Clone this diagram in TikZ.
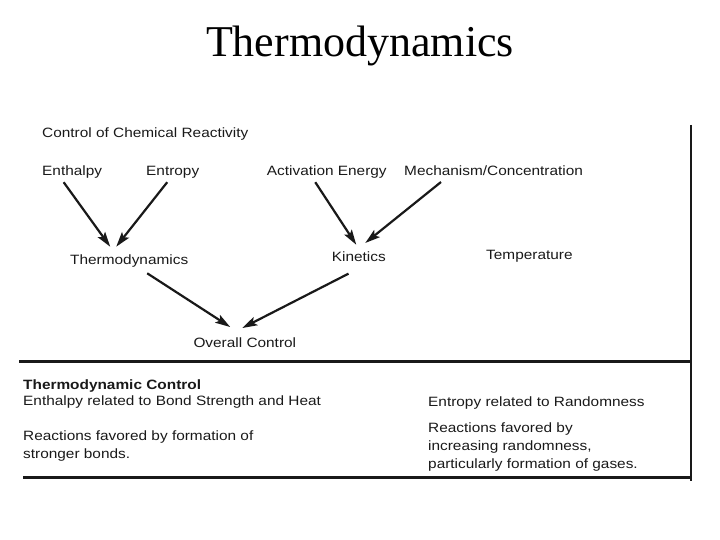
\documentclass[tikz,border=0pt]{standalone}
\usepackage{fontspec}
\setmainfont{Liberation Serif}
\newfontfamily\labelfont[FakeStretch=1.14]{Liberation Sans}
\usetikzlibrary{arrows.meta, calc}

\begin{document}
\begin{tikzpicture}[x=1pt, y=-1pt,
    lbl/.style={anchor=base west, inner sep=0pt, align=left,
      font=\labelfont\fontsize{13.5}{17.5}\selectfont, text=black!90},
    arr/.style={line width=2.2pt, draw=black!90,
      -{Stealth[length=15pt, width=9pt, inset=3pt]}},
    rule/.style={line width=3pt, draw=black!90}]
    \useasboundingbox (0,0) rectangle (720,540);
    \node[anchor=base, inner sep=0pt, font=\fontsize{44}{50}\selectfont] (title) at (360,57) {Thermodynamics};

    \node[lbl] (ctrl) at (42,138) {Control of Chemical Reactivity};
    \node[lbl] (enth) at (42,175.7) {Enthalpy};
    \node[lbl] (entr) at (146,175.7) {Entropy};
    \node[lbl] (act) at (266.7,175.7) {Activation Energy};
    \node[lbl] (mech) at (404,175.7) {Mechanism/Concentration};
    \node[lbl] (thermo) at (70,264.3) {Thermodynamics};
    \node[lbl] (kin) at (331.7,261) {Kinetics};
    \node[lbl] (temp) at (486,259.3) {Temperature};
    \node[lbl] (overall) at (193.3,347.3) {Overall Control};

    \draw[arr] ($(enth.south)+(-8.5,3.5)$) -- ($(thermo.north)+(-19,-7.6)$);
    \draw[arr] ($(entr.south)+(-5.5,3.5)$) -- ($(thermo.north)+(-13,-7.6)$);
    \draw[arr] ($(act.south)+(-11.5,3.5)$) -- ($(kin.north)+(-2.6,-6.3)$);
    \draw[arr] ($(mech.south west)+(37,6)$) -- ($(kin.north)+(6.4,-8)$);
    \draw[arr] ($(thermo.south)+(18,6)$) -- ($(overall.north)+(-14.6,-10.3)$);
    \draw[arr] ($(kin.south)+(-10.3,12.3)$) -- ($(overall.north)+(-2.6,-9.3)$);

    \coordinate (ruleA) at (19,361.7);
    \coordinate (ruleB) at (691,361.7);
    \coordinate (ruleC) at (23,477.7);
    \coordinate (ruleD) at (691,477.7);
    \coordinate (sideT) at (691,125);
    \coordinate (sideB) at (691,481);
    \draw[rule] (ruleA) -- (ruleB);
    \draw[rule] (ruleC) -- (ruleD);
    \draw[line width=1.2pt, draw=black!90] (sideT) -- (sideB);

    \node[lbl, font=\labelfont\bfseries\fontsize{13.5}{17.5}\selectfont] (tdc) at (23,389) {Thermodynamic Control};
    \node[lbl] (enthrel) at (23,405) {Enthalpy related to Bond Strength and Heat};
    \node[lbl] (entrrel) at (428,406) {Entropy related to Randomness};
    \node[lbl] (favl) at (23,458) {Reactions favored by formation of\\stronger bonds.};
    \node[lbl, font=\labelfont\fontsize{13.5}{18}\selectfont] (favr) at (428,468) {Reactions favored by\\increasing randomness,\\particularly formation of gases.};
\end{tikzpicture}
\end{document}
